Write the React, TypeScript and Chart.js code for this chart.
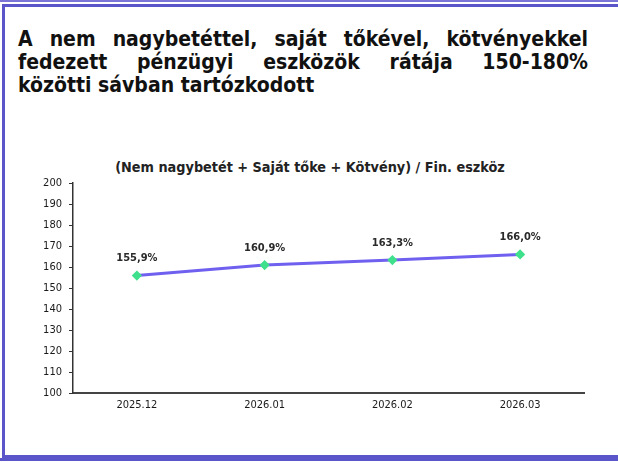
import React, { useEffect, useRef } from "react";
import { Chart, registerables } from "chart.js";

Chart.register(...registerables);

const headlineLines = [
  "A nem nagybetéttel, saját tőkével, kötvényekkel",
  "fedezett pénzügyi eszközök rátája 150-180%",
  "közötti sávban tartózkodott",
];
const chartTitle = "(Nem nagybetét + Saját tőke + Kötvény) / Fin. eszköz";
const categories = ["2025.12", "2026.01", "2026.02", "2026.03"];
const ratioValues = [155.9, 160.9, 163.3, 166.0];
const valueLabels = ["155,9%", "160,9%", "163,3%", "166,0%"];
const yMin = 100;
const yMax = 200;
const yStep = 10;

const FONT = "'DejaVu Sans Condensed', 'DejaVu Sans', sans-serif";
const FRAME = "#5a55c9";

const labelPlugin = {
  id: "valueLabels",
  afterDatasetsDraw(chart: any) {
    const meta = chart.getDatasetMeta(0);
    const ctx = chart.ctx;
    ctx.save();
    ctx.font = `bold 11px ${FONT}`;
    ctx.fillStyle = "#2a2a2a";
    ctx.textAlign = "center";
    ctx.textBaseline = "middle";
    meta.data.forEach((pt: any, i: number) => {
      ctx.fillText(valueLabels[i], pt.x, pt.y - 17);
    });
    ctx.restore();
  },
};

export default function App() {
  const ref = useRef<HTMLCanvasElement | null>(null);

  useEffect(() => {
    document.body.style.margin = "0";
    if (!ref.current) return;
    const chart = new Chart(ref.current, {
      type: "line",
      data: {
        labels: categories,
        datasets: [
          {
            data: ratioValues,
            borderColor: "#6f60ef",
            borderWidth: 3,
            pointBackgroundColor: "#3fe08c",
            pointBorderColor: "#3fe08c",
            pointRadius: 3,
            pointStyle: "rectRot",
            tension: 0,
          },
        ],
      },
      options: {
        animation: false,
        responsive: false,
        maintainAspectRatio: false,
        layout: { padding: { left: 0, right: 34, top: 33, bottom: 7 } },
        plugins: {
          legend: { display: false },
          tooltip: { enabled: false },
          title: { display: false },
        },
        scales: {
          x: {
            offset: true,
            grid: { display: true, drawOnChartArea: false, drawTicks: false, color: "transparent" },
            border: { display: true, color: "#444", width: 2 },
            ticks: { color: "#1a1a1a", font: { family: FONT, size: 11 }, padding: 6 },
            afterFit: (s: any) => {
              s.height = 30;
            },
          },
          y: {
            min: yMin,
            max: yMax,
            grid: { display: true, drawOnChartArea: false, tickLength: 4, color: "#333" },
            border: { display: true, color: "#333", width: 1.5 },
            ticks: { stepSize: yStep, color: "#1a1a1a", font: { family: FONT, size: 11 }, padding: 7 },
            afterFit: (s: any) => {
              s.width = 73;
            },
          },
        },
      },
      plugins: [labelPlugin],
    });
    return () => chart.destroy();
  }, []);

  return (
    <div style={{ position: "fixed", left: 0, top: 0, width: 618, height: 462, background: "#fff", overflow: "hidden" }}>
      <div style={{ position: "absolute", left: 0, top: 0, width: 618, height: 2, background: "#7a74d6" }} />
      <div
        style={{
          position: "absolute",
          left: 2,
          top: 4,
          width: 640,
          height: 448,
          borderLeft: `3px solid ${FRAME}`,
          borderTop: `3px solid ${FRAME}`,
          borderBottom: `3px solid ${FRAME}`,
        }}
      />
      <div style={{ position: "absolute", left: 0, top: 458, width: 618, height: 3, background: FRAME }} />
      <div
        style={{
          position: "absolute",
          left: 18,
          top: 28,
          width: 570,
          fontFamily: FONT,
          fontWeight: "bold",
          fontSize: 21,
          lineHeight: "23px",
          color: "#111",
        }}
      >
        {headlineLines.map((line, i) => (
          <div
            key={i}
            style={{
              whiteSpace: "nowrap",
              textAlign: i < headlineLines.length - 1 ? "justify" : "left",
              textAlignLast: i < headlineLines.length - 1 ? "justify" : "left",
            }}
          >
            {line}
          </div>
        ))}
      </div>
      <div
        style={{
          position: "absolute",
          left: 0,
          top: 158,
          width: 620,
          textAlign: "center",
          fontFamily: FONT,
          fontWeight: "bold",
          fontSize: 14.3,
          lineHeight: "18px",
          color: "#222",
          whiteSpace: "nowrap",
        }}
      >
        {chartTitle}
      </div>
      <canvas ref={ref} width={618} height={280} style={{ position: "absolute", left: 0, top: 150, width: 618, height: 280 }} />
    </div>
  );
}
